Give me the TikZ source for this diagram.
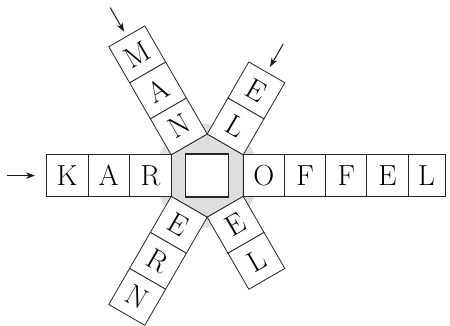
\documentclass[tikz,border=0pt]{standalone}
\usetikzlibrary{calc,arrows.meta}
\begin{document}
\begin{tikzpicture}[x=1pt,y=1pt,
  lbox/.style={draw=black!85, fill=white, line width=0.8pt, minimum size=41.6pt,
    inner sep=0pt, font=\fontsize{29}{32}\selectfont},
  hbox/.style={lbox, minimum width=41.2pt},
  arr/.style={-{Stealth[length=9pt,width=6.5pt]}, line width=1pt, black!90},
  hexline/.style={draw=black!85, line width=0.8pt}
]
\useasboundingbox (0,0) rectangle (450,326);
\coordinate (C) at (207.2,150.4);
% gray disc
\fill[black!13] (C) circle (52pt);
% hexagon
\path (C) ++(30:41.6pt) coordinate (h1);
\path (C) ++(90:41.6pt) coordinate (h2);
\path (C) ++(150:41.6pt) coordinate (h3);
\path (C) ++(210:41.6pt) coordinate (h4);
\path (C) ++(270:41.6pt) coordinate (h5);
\path (C) ++(330:41.6pt) coordinate (h6);
\draw[hexline] (h1) -- (h2) -- (h3) -- (h4) -- (h5) -- (h6) -- cycle;
% centre square
\node[draw=black!85, fill=white, minimum size=43pt, line width=1.1pt] (sq) at (207,150.5) {};
% horizontal: KAR ? OFFEL
\node[lbox] (K) at (67.17,150.4) {K};
\node[lbox] (A) at (108.77,150.4) {A};
\node[lbox] (R) at (150.37,150.4) {R};
\node[hbox] (O) at (263.83,150.4) {O};
\node[hbox] (F1) at (305.03,150.4) {F};
\node[hbox] (F2) at (346.23,150.4) {F};
\node[hbox] (E1) at (387.43,150.4) {E};
\node[lbox, minimum width=37pt] (L1) at (426.5,150.4) {L};
% top-left arm: MAN
\node[lbox, rotate=30] (N1) at ($(C)+(120:56.83pt)$) {N};
\node[lbox, rotate=30] (A2) at ($(C)+(120:98.43pt)$) {A};
\node[lbox, rotate=30] (M) at ($(C)+(120:140.03pt)$) {M};
% lower-right arm: EL
\node[lbox, rotate=30] (E3) at ($(C)+(300:56.83pt)$) {E};
\node[lbox, rotate=30] (L3) at ($(C)+(300:98.43pt)$) {L};
% top-right arm: EL
\node[lbox, rotate=-30] (L2) at ($(C)+(60:56.83pt)$) {L};
\node[lbox, rotate=-30] (E2) at ($(C)+(60:98.43pt)$) {E};
% lower-left arm: ERN
\node[lbox, rotate=-30] (E4) at ($(C)+(240:56.83pt)$) {E};
\node[lbox, rotate=-30] (R4) at ($(C)+(240:98.43pt)$) {R};
\node[lbox, rotate=-30] (N4) at ($(C)+(240:140.03pt)$) {N};
% arrows
\coordinate (la) at (7,150.4);
\coordinate (tla) at ($(C)+(120:194pt)$);
\coordinate (tra) at ($(C)+(60:152pt)$);
\draw[arr, shorten >=11pt] (la) -- (K);
\draw[arr, shorten >=5pt] (tla) -- (M);
\draw[arr, shorten >=6pt] (tra) -- (E2);
\end{tikzpicture}
\end{document}
